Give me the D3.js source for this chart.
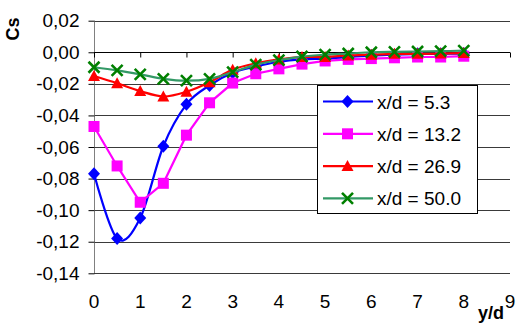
<!DOCTYPE html>
<html>
<head>
<meta charset="utf-8">
<script src="https://cdn.jsdelivr.net/npm/d3@7"></script>
<style>
  html, body { margin: 0; padding: 0; background: #fff; }
  svg { display: block; font-family: "Liberation Sans", Arial, sans-serif; }
</style>
</head>
<body>
<svg id="chart" width="517" height="323"></svg>
<script>
// Side-force coefficient profiles across the wake at four downstream stations
const yd = [0, 0.5, 1, 1.5, 2, 2.5, 3, 3.5, 4, 4.5, 5, 5.5, 6, 6.5, 7, 7.5, 8];
const cs53  = [-0.077, -0.118, -0.105, -0.0595, -0.033, -0.021, -0.013, -0.009, -0.006, -0.0045, -0.004, -0.003, -0.002, -0.0015, -0.001, -0.001, -0.0008];
const cs132 = [-0.047, -0.072, -0.095, -0.083, -0.0525, -0.032, -0.0195, -0.0136, -0.0105, -0.0075, -0.0055, -0.0045, -0.004, -0.0035, -0.003, -0.003, -0.0025];
const cs269 = [-0.015, -0.0196, -0.0246, -0.028, -0.025, -0.019, -0.011, -0.007, -0.0045, -0.003, -0.003, -0.002, -0.0015, -0.001, -0.001, -0.0008, -0.0005];
const cs500 = [-0.0095, -0.0115, -0.014, -0.0168, -0.018, -0.0168, -0.0126, -0.0078, -0.005, -0.0027, -0.0015, -0.0008, 0.0, 0.0003, 0.0005, 0.0007, 0.001];
const seriesNames = ["x/d = 5.3", "x/d = 13.2", "x/d = 26.9", "x/d = 50.0"];
const xTicks = [0, 1, 2, 3, 4, 5, 6, 7, 8, 9];
const yTicks = [0.02, 0.00, -0.02, -0.04, -0.06, -0.08, -0.10, -0.12, -0.14];

const series = [
  { name: seriesNames[0], values: cs53,  line: "#0000ff", fill: "#0000ff", marker: "diamond",  smooth: true },
  { name: seriesNames[1], values: cs132, line: "#ff00ff", fill: "#ff00ff", marker: "square",   smooth: false },
  { name: seriesNames[2], values: cs269, line: "#ff0000", fill: "#ff0000", marker: "triangle", smooth: true },
  { name: seriesNames[3], values: cs500, line: "#339966", fill: "#008000", marker: "cross",    smooth: true }
];

const svg = d3.select("#chart");
const x = d3.scaleLinear().domain([0, 9]).range([94, 510]);
const y = d3.scaleLinear().domain([-0.14, 0.02]).range([273.3, 20.7]);
const fmt = v => d3.format(".2f")(v).replace(".", ",").replace("−", "-");

// horizontal gridlines
svg.append("g").selectAll("line").data(yTicks).join("line")
  .attr("x1", 94).attr("x2", 510)
  .attr("y1", d => Math.round(y(d)) + 0.5).attr("y2", d => Math.round(y(d)) + 0.5)
  .attr("stroke", "#3a3a3a").attr("stroke-width", 1);

// value axis on the left
const yAxis = d3.axisLeft(y).tickValues(yTicks).tickFormat(fmt).tickSize(6).tickPadding(9);
const gy = svg.append("g").attr("transform", "translate(94.5,0)").call(yAxis);
gy.select(".domain").attr("stroke", "#808080").attr("d", `M0,${y(0.02)}V${y(-0.14)}`);
gy.selectAll(".tick line").attr("stroke", "#000");
gy.selectAll(".tick text").attr("font-size", 19).attr("fill", "#000")
  .attr("font-family", "Liberation Sans, Arial, sans-serif");

// category axis line drawn through zero, labels along the bottom
const gx = svg.append("g").attr("transform", `translate(0,${Math.round(y(0)) + 0.5})`)
  .call(d3.axisBottom(x).tickValues(xTicks).tickFormat("").tickSize(5));
gx.select(".domain").attr("stroke", "#000").attr("d", `M${x(0)},0H${x(9)}`);
gx.selectAll(".tick line").attr("stroke", "#000");

svg.append("g").selectAll("text").data(xTicks).join("text")
  .attr("x", d => x(d)).attr("y", 308)
  .attr("text-anchor", "middle").attr("font-size", 19).attr("fill", "#000")
  .text(d => d);

// axis titles
svg.append("text").attr("transform", "translate(19,29) rotate(-90)")
  .attr("text-anchor", "middle").attr("font-size", 18).attr("font-weight", "bold").text("Cs");
svg.append("text").attr("x", 491).attr("y", 319)
  .attr("text-anchor", "middle").attr("font-size", 18).attr("font-weight", "bold").text("y/d");

// marker shapes
function drawMarker(g, kind, cx, cy, s) {
  if (kind === "diamond") {
    g.append("path").attr("d", `M${cx},${cy - 6.5}L${cx + 6},${cy}L${cx},${cy + 6.5}L${cx - 6},${cy}Z`)
      .attr("fill", s.fill);
  } else if (kind === "square") {
    g.append("rect").attr("x", cx - 5.5).attr("y", cy - 5.5).attr("width", 11).attr("height", 11)
      .attr("fill", s.fill);
  } else if (kind === "triangle") {
    g.append("path").attr("d", `M${cx},${cy - 6}L${cx + 6},${cy + 5}L${cx - 6},${cy + 5}Z`)
      .attr("fill", s.fill);
  } else {
    g.append("path").attr("d", `M${cx - 5.5},${cy - 5.5}L${cx + 5.5},${cy + 5.5}M${cx + 5.5},${cy - 5.5}L${cx - 5.5},${cy + 5.5}`)
      .attr("stroke", s.fill).attr("stroke-width", 2.6).attr("fill", "none");
  }
}

// series lines and markers
series.forEach(s => {
  const pts = yd.map((v, i) => [v, s.values[i]]);
  const line = d3.line().x(d => x(d[0])).y(d => y(d[1]))
    .curve(s.smooth ? d3.curveCatmullRom.alpha(0) : d3.curveLinear);
  const g = svg.append("g");
  g.append("path").datum(pts).attr("d", line)
    .attr("fill", "none").attr("stroke", s.line).attr("stroke-width", 2.2);
  pts.forEach(p => drawMarker(g, s.marker, x(p[0]), y(p[1]), s));
});

// legend
const lg = svg.append("g");
lg.append("rect").attr("x", 317.5).attr("y", 85.5).attr("width", 160).attr("height", 128)
  .attr("fill", "#fff").attr("stroke", "#000").attr("stroke-width", 1);
series.forEach((s, i) => {
  const cy = 101.5 + i * 32.3;
  lg.append("line").attr("x1", 323).attr("x2", 373).attr("y1", cy).attr("y2", cy)
    .attr("stroke", s.line).attr("stroke-width", 2.2);
  drawMarker(lg, s.marker, 347.5, cy, s);
  lg.append("text").attr("x", 377).attr("y", cy + 7).attr("font-size", 19).attr("fill", "#000").text(s.name);
});
</script>
</body>
</html>
